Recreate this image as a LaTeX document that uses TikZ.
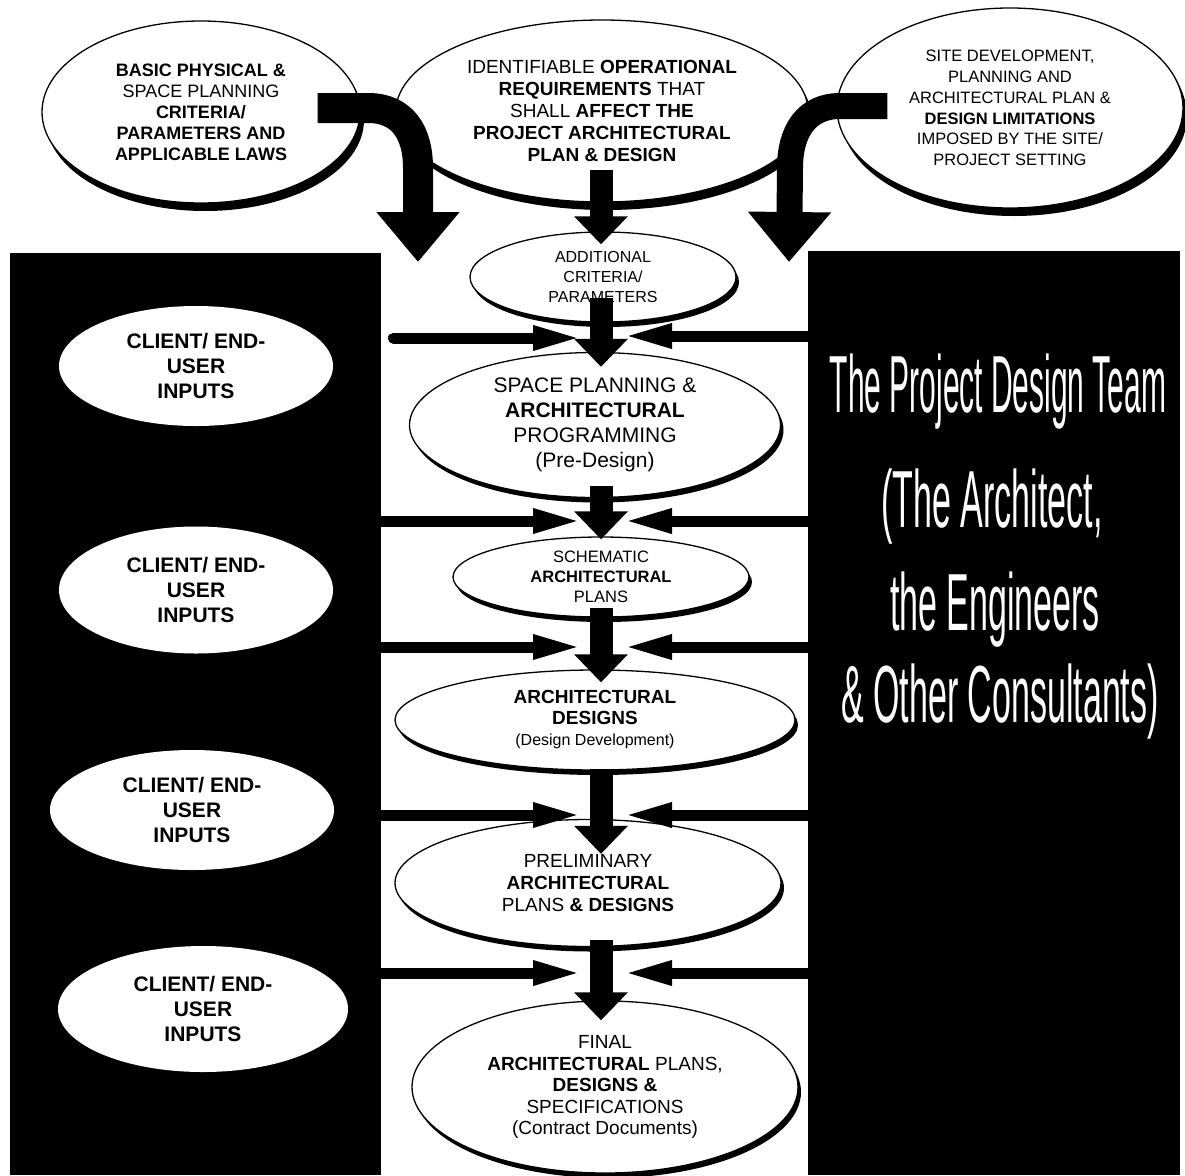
\documentclass[tikz,border=0pt]{standalone}
\usepackage{fontspec}
\setmainfont{Liberation Sans}
\usepackage{graphicx}
\usetikzlibrary{shapes.geometric,arrows.meta,shadows,calc}
\tikzset{>=Stealth}
\tikzset{
  stage/.style={ellipse, draw=black, line width=1.3pt, fill=white, align=center, inner sep=0pt,
    drop shadow={shadow xshift=3pt, shadow yshift=-5pt, fill=black, opacity=1}},
  bigstage/.style={stage, drop shadow={shadow xshift=4pt, shadow yshift=-8pt, fill=black, opacity=1}},
  client/.style={ellipse, fill=white, align=center, inner sep=0pt,
    minimum width=274pt, font=\bfseries\fontsize{21}{25}\selectfont},
  panel/.style={fill=black, inner sep=0pt, anchor=north west},
  flowarrow/.style={line width=23pt, -{Triangle[length=28pt,width=52pt]}},
  feedarrow/.style={line width=11pt, -{Triangle[length=50pt,width=22pt]}},
  bigarrow/.style={line width=30pt, -{Triangle[length=50pt,width=80pt]}},
  teamtext/.style={text=white, inner sep=0pt, anchor=base}
}

\begin{document}
\begin{tikzpicture}[x=1pt, y=-1pt]
\useasboundingbox (0,0) rectangle (1185,1175);

% Black side panels
\node[panel, minimum width=371pt, minimum height=922pt] (leftpanel) at (10,253) {};
\node[panel, minimum width=372pt, minimum height=924pt] (rightpanel) at (808,251) {};

% Top inputs
\node[bigstage, minimum width=318pt, minimum height=182pt, font=\fontsize{18}{21}\selectfont] (basic) at (201,112)
  {\textbf{BASIC PHYSICAL \&}\\ SPACE PLANNING\\ \textbf{CRITERIA/}\\ \textbf{PARAMETERS AND}\\ \textbf{APPLICABLE LAWS}};
\node[bigstage, minimum width=412pt, minimum height=182pt, font=\fontsize{19}{22}\selectfont] (ident) at (602,111)
  {IDENTIFIABLE \textbf{OPERATIONAL}\\ \textbf{REQUIREMENTS} THAT\\ SHALL \textbf{AFFECT THE}\\ \textbf{PROJECT ARCHITECTURAL}\\ \textbf{PLAN \& DESIGN}};
\node[bigstage, minimum width=346pt, minimum height=200pt, font=\fontsize{16.5}{20.7}\selectfont] (site) at (1010,108)
  {SITE DEVELOPMENT,\\ PLANNING AND\\ ARCHITECTURAL PLAN \&\\ \textbf{DESIGN LIMITATIONS}\\ IMPOSED BY THE SITE/\\ PROJECT SETTING};

% Stages of the design process
\node[stage, minimum width=266pt, minimum height=90pt, font=\fontsize{16}{20}\selectfont] (addit) at (603,277)
  {ADDITIONAL\\ CRITERIA/\\ PARAMETERS};
\node[stage, minimum width=371pt, minimum height=145pt, font=\fontsize{21}{25}\selectfont] (space) at (595,425)
  {SPACE PLANNING \&\\ \textbf{ARCHITECTURAL}\\ PROGRAMMING\\ (Pre-Design)};
\node[stage, minimum width=296pt, minimum height=80pt, font=\fontsize{16.5}{20}\selectfont] (schem) at (601,577)
  {SCHEMATIC\\ \textbf{ARCHITECTURAL}\\ PLANS};
\node[stage, minimum width=400pt, minimum height=100pt, font=\fontsize{19}{21}\selectfont] (design) at (595,720)
  {\textbf{ARCHITECTURAL}\\ \textbf{DESIGNS}\\ {\fontsize{16}{21}\selectfont (Design Development)}};
\node[stage, minimum width=386pt, minimum height=127pt, font=\fontsize{19}{22}\selectfont] (prelim) at (588,883)
  {PRELIMINARY\\ \textbf{ARCHITECTURAL}\\ PLANS \textbf{\& DESIGNS}};
\node[stage, minimum width=386pt, minimum height=172pt, font=\fontsize{19}{21.5}\selectfont] (final) at (605,1087)
  {FINAL\\ \textbf{ARCHITECTURAL} PLANS,\\ \textbf{DESIGNS \&}\\ SPECIFICATIONS\\ (Contract Documents)};

% Client inputs
\node[client, minimum height=120pt] (client1) at (196,366) {CLIENT/ END-\\ USER\\ INPUTS};
\node[client, minimum height=127pt] (client2) at (196,590) {CLIENT/ END-\\ USER\\ INPUTS};
\node[client, minimum height=120pt, minimum width=284pt] (client3) at (192,810) {CLIENT/ END-\\ USER\\ INPUTS};
\node[client, minimum height=126pt, minimum width=290pt] (client4) at (203,1009) {CLIENT/ END-\\ USER\\ INPUTS};

% Design team
\node[teamtext] (team1) at (998,412) {\scalebox{0.37}[1]{\fontsize{81}{81}\selectfont The Project Design Team}};
\node[teamtext] (team2) at (992,527) {\scalebox{0.42}[1]{\fontsize{81}{81}\selectfont (The Architect,}};
\node[teamtext] (team3) at (995,630) {\scalebox{0.42}[1]{\fontsize{81}{81}\selectfont the Engineers}};
\node[teamtext] (team4) at (1000,722) {\scalebox{0.42}[1]{\fontsize{81}{81}\selectfont \& Other Consultants)}};

% Curved arrows from the top inputs
\coordinate (lbar) at ($(basic.east)+(-43,-4)$);
\coordinate (ltip) at (418,262);
\draw[bigarrow] (lbar) -- (368,108) .. controls (402,108) and (418,132) .. (418,168) -- (ltip);
\coordinate (rbar) at ($(site.west)+(51,-2)$);
\coordinate (rtip) at (789,262);
\draw[bigarrow, line width=26pt] (rbar) -- (840,106) .. controls (806,106) and (790,132) .. (790,168) -- (rtip);

% Main flow
\coordinate (axis) at (601,0);
\draw[flowarrow] ($(ident.south -| axis)+(0,-33)$) -- ($(addit.north -| axis)+(0,13)$);
\draw[flowarrow] ($(addit.south -| axis)+(0,-25)$) -- ($(space.north -| axis)+(0,15)$);
\draw[flowarrow] ($(space.south -| axis)+(0,-12)$) -- ($(schem.north -| axis)+(0,3)$);
\draw[flowarrow] ($(schem.south -| axis)+(0,-10)$) -- ($(design.north -| axis)+(0,13)$);
\draw[flowarrow] ($(design.south -| axis)+(0,-2)$) -- ($(prelim.north -| axis)+(0,35)$);
\draw[flowarrow] ($(prelim.south -| axis)+(0,-7)$) -- ($(final.north -| axis)+(0,20)$);

% Feedback from the client and the design team
\coordinate (lin1) at (583,338);
\coordinate (rin1) at (622,336);
\draw[feedarrow, line cap=round] ($(leftpanel.east |- lin1)+(12,0)$) -- (lin1);
\draw[feedarrow] (rightpanel.west |- rin1) -- (rin1);
\foreach \i/\y in {2/521,3/647,4/815,5/973}{
  \coordinate (lin\i) at (583,\y);
  \coordinate (rin\i) at (622,\y);
  \draw[feedarrow] (leftpanel.east |- lin\i) -- (lin\i);
  \draw[feedarrow] (rightpanel.west |- rin\i) -- (rin\i);
}

\end{tikzpicture}
\end{document}
